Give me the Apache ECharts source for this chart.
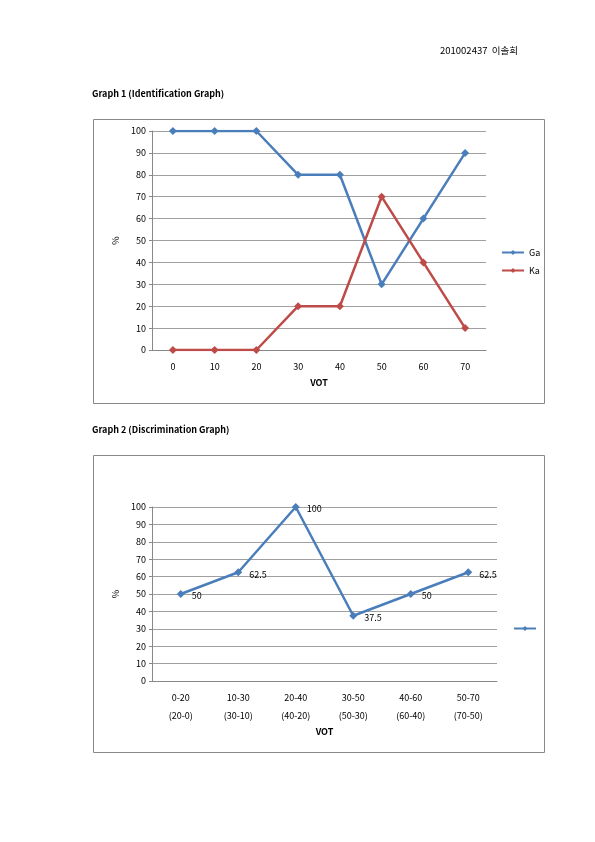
<!DOCTYPE html>
<html><head><meta charset="utf-8">
<script src="https://cdn.jsdelivr.net/npm/echarts@6/dist/echarts.min.js"></script>
<style>html,body{margin:0;padding:0;background:#fff}#c{width:595px;height:842px}</style>
</head><body><div id="c"></div>
<script>
const cats1 = ['0','10','20','30','40','50','60','70'];
const ga = [100,100,100,80,80,30,60,90];
const ka = [0,0,0,20,20,70,40,10];
const cats2 = ['0-20\n(20-0)','10-30\n(30-10)','20-40\n(40-20)','30-50\n(50-30)','40-60\n(60-40)','50-70\n(70-50)'];
const disc = [50,62.5,100,37.5,50,62.5];
const yTicks = [0,10,20,30,40,50,60,70,80,90,100];

const F = '"Noto Sans CJK KR","DejaVu Sans",sans-serif';
const blue = '#4A7EBB', red = '#BE4B48';
const ch = echarts.init(document.getElementById('c'));
const yAx = (gi) => ({gridIndex:gi,type:'value',min:0,max:100,interval:10,
  axisLine:{show:true,lineStyle:{color:'#888'}},axisTick:{show:true,length:3,lineStyle:{color:'#888'}},
  axisLabel:{fontSize:9,color:'#000',fontFamily:F,margin:6},
  splitLine:{lineStyle:{color:'#a0a0a0'}},
  name:'%',nameLocation:'middle',nameGap:30,nameTextStyle:{fontSize:9,color:'#000',fontFamily:F}});
const xAx = (gi,d) => ({gridIndex:gi,type:'category',data:d,boundaryGap:true,
  axisLine:{lineStyle:{color:'#888'}},axisTick:{show:false},
  axisLabel:{fontSize:9,color:'#000',fontFamily:F,margin:8,lineHeight:18},
  name:'VOT',nameLocation:'middle',nameTextStyle:{fontSize:9,fontWeight:'bold',color:'#000',fontFamily:F}});
const x1 = xAx(0,cats1); x1.nameGap=28;
const x2 = xAx(1,cats2); x2.nameGap=46;
ch.setOption({
  animation:false,
  textStyle:{fontFamily:F},
  graphic:[
    {type:'text',left:440,top:46,style:{text:'201002437  이솔희',fill:'#000',font:'9.5px '+F}},
    {type:'text',left:92,top:89,style:{text:'Graph 1 (Identification Graph)',fill:'#000',font:'bold 9px '+F}},
    {type:'text',left:92,top:425,style:{text:'Graph 2 (Discrimination Graph)',fill:'#000',font:'bold 9px '+F}},
    {type:'rect',shape:{x:93.5,y:119.5,width:451,height:284},style:{fill:'none',stroke:'#888',lineWidth:1}},
    {type:'rect',shape:{x:93.5,y:455.5,width:451,height:297},style:{fill:'none',stroke:'#888',lineWidth:1}}
  ],
  grid:[{left:152,top:131,width:334,height:219},{left:152,top:507,width:345,height:174}],
  xAxis:[x1,x2],
  yAxis:[yAx(0),yAx(1)],
  legend:[
    {data:['Ga','Ka'],orient:'vertical',left:496,top:243,itemWidth:22,itemHeight:6,itemGap:9,
     textStyle:{fontSize:9,color:'#000',fontFamily:F}},
    {data:[' '],left:508,top:619,itemWidth:22,itemHeight:6,textStyle:{fontSize:9}}
  ],
  series:[
    {name:'Ga',type:'line',xAxisIndex:0,yAxisIndex:0,data:ga,symbol:'diamond',symbolSize:8,
     lineStyle:{color:blue,width:2.5},itemStyle:{color:blue}},
    {name:'Ka',type:'line',xAxisIndex:0,yAxisIndex:0,data:ka,symbol:'diamond',symbolSize:8,
     lineStyle:{color:red,width:2.5},itemStyle:{color:red}},
    {name:' ',type:'line',xAxisIndex:1,yAxisIndex:1,data:disc,symbol:'diamond',symbolSize:8,
     lineStyle:{color:blue,width:2.5},itemStyle:{color:blue},
     label:{show:true,position:'right',offset:[2,2],fontSize:9,color:'#000',fontFamily:F}}
  ]
});
</script></body></html>
